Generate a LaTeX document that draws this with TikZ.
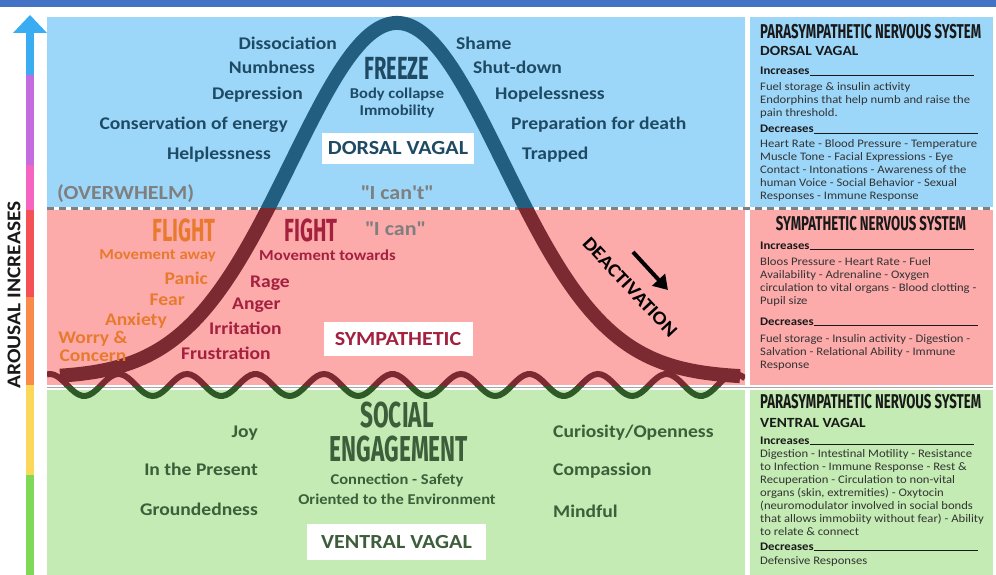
\documentclass[tikz,border=0pt]{standalone}
\usepackage{fontspec}
\setmainfont[FakeStretch=1.1]{Carlito}
\newfontfamily\condfont[FakeStretch=0.63]{Fira Sans}
\newfontfamily\sidefont[FakeStretch=0.66]{Fira Sans}
\usetikzlibrary{arrows.meta}

\definecolor{topbar}{HTML}{4472C4}
\definecolor{dorsalbg}{HTML}{9CD7FA}
\definecolor{sympbg}{HTML}{FDAAAA}
\definecolor{ventralbg}{HTML}{C3EBB3}
\definecolor{dorsaltxt}{HTML}{1F4A63}
\definecolor{dorsalline}{HTML}{215E80}
\definecolor{sympline}{HTML}{7A2A30}
\definecolor{flighttxt}{HTML}{E87A2E}
\definecolor{fighttxt}{HTML}{A3213F}
\definecolor{greytxt}{HTML}{7F7F7F}
\definecolor{ventraltxt}{HTML}{3D5E3A}
\definecolor{waveline}{HTML}{2F5A28}
\definecolor{axblue}{HTML}{3AADF2}
\definecolor{axpurple}{HTML}{C46BE0}
\definecolor{axpink}{HTML}{F564C0}
\definecolor{axred}{HTML}{F55055}
\definecolor{axorange}{HTML}{F98A4A}
\definecolor{axyellow}{HTML}{FCD85A}
\definecolor{axgreen}{HTML}{7ED957}

\newcommand{\rulehead}[2]{\makebox[#2][l]{#1\leaders\hrule height 0pt depth 1.3pt\hfill\kern0pt}}

\tikzset{
	feelword/.style={inner sep=0pt,font=\bfseries\fontsize{17.8}{17.8}\selectfont},
	smallnote/.style={inner sep=0pt,anchor=base,font=\bfseries\fontsize{15}{15}\selectfont},
	bigword/.style={inner sep=0pt,anchor=base,font=\condfont\bfseries\fontsize{32}{32}\selectfont},
	statebox/.style={fill=white,inner sep=0pt,font=\bfseries\fontsize{20}{20}\selectfont},
	saying/.style={inner sep=0pt,text=greytxt,font=\bfseries\fontsize{20}{20}\selectfont},
	sidetitle/.style={inner sep=0pt,anchor=base west,text=black!90,font=\sidefont\bfseries\fontsize{20}{20}\selectfont},
	sidesub/.style={inner sep=0pt,anchor=base west,text=black!90,font=\bfseries\fontsize{14}{14}\selectfont},
	sidehead/.style={inner sep=0pt,anchor=base west,text=black!90,font=\bfseries\fontsize{11.6}{12}\selectfont},
	sidebody/.style={inner sep=0pt,anchor=north west,align=left,text=black!80,font=\fontsize{11.5}{13}\selectfont},
}

\begin{document}
\begin{tikzpicture}[x=1pt,y=-1pt]
	\useasboundingbox (0,0) rectangle (996,575);
	\fill[white] (0,0) rectangle (996,575);
	\fill[topbar] (0,0) rectangle (996,7);

	\fill[dorsalbg] (47,17) rectangle (745,207);
	\fill[dorsalbg] (750,17) rectangle (993,207);
	\fill[sympbg] (47,210) rectangle (745,385);
	\fill[sympbg] (750,210) rectangle (993,385);
	\fill[ventralbg] (47,390) rectangle (745,575);
	\fill[ventralbg] (750,390) rectangle (993,575);
	\draw[gray,line width=2.5,dash pattern=on 7pt off 5pt] (47,208.5) -- (993,208.5);
	\draw[gray!70,line width=1.5] (47,387.5) -- (993,387.5);

	\fill[axgreen] (26,475) rectangle (34,575);
	\fill[axyellow] (26,385) rectangle (34,475);
	\fill[axorange] (26,297) rectangle (34,385);
	\fill[axred] (26,210) rectangle (34,297);
	\fill[axpink] (26,165) rectangle (34,210);
	\fill[axpurple] (26,75) rectangle (34,165);
	\fill[axblue] (26,32) rectangle (34,75);
	\fill[axblue] (13,33) -- (30,15) -- (47,33) -- cycle;
	\node[inner sep=0pt,rotate=90,text=black!90,font=\bfseries\fontsize{19.5}{19.5}\selectfont](arousal) at (14,295) {AROUSAL INCREASES};

	\begin{scope}
		\clip (47,0) rectangle (745,208.5);
		\draw[dorsalline,line width=14] plot[domain=60:740,samples=150,smooth] (\x,{378-355*exp(0-((\x-397)/150)*((\x-397)/150))});
	\end{scope}
	\begin{scope}
		\clip (47,208.5) rectangle (745,384);
		\draw[sympline,line width=14] plot[domain=60:740,samples=150,smooth] (\x,{378-355*exp(0-((\x-397)/150)*((\x-397)/150))});
	\end{scope}
	\begin{scope}
		\clip (47,0) rectangle (745,386);
		\draw[sympline,line width=6] plot[domain=47:745,samples=200,smooth] (\x,{385-11*cos((\x-50)*5.25547)});
	\end{scope}
	\begin{scope}
		\clip (47,386) rectangle (745,420);
		\draw[waveline,line width=6] plot[domain=47:745,samples=200,smooth] (\x,{385-11*cos((\x-50)*5.25547)});
	\end{scope}

	\node[feelword,anchor=base east,text=dorsaltxt](dissoc) at (337,49.5) {Dissociation};
	\node[feelword,anchor=base east,text=dorsaltxt](numb) at (315,73.5) {Numbness};
	\node[feelword,anchor=base east,text=dorsaltxt](depress) at (303,99.5) {Depression};
	\node[feelword,anchor=base east,text=dorsaltxt](conserve) at (288,129.5) {Conservation of energy};
	\node[feelword,anchor=base east,text=dorsaltxt](helpless) at (271,159.5) {Helplessness};
	\node[saying,anchor=base west](overwhelm) at (57,199.5) {(OVERWHELM)};
	\node[feelword,anchor=base west,text=dorsaltxt](shame) at (456,49.5) {Shame};
	\node[feelword,anchor=base west,text=dorsaltxt](shutdown) at (473,73.5) {Shut-down};
	\node[feelword,anchor=base west,text=dorsaltxt](hopeless) at (495,99.5) {Hopelessness};
	\node[feelword,anchor=base west,text=dorsaltxt](death) at (511,129.5) {Preparation for death};
	\node[feelword,anchor=base west,text=dorsaltxt](trapped) at (522,159.5) {Trapped};
	\node[bigword,text=dorsaltxt](freeze) at (397,80) {FREEZE};
	\node[smallnote,text=dorsaltxt](collapse) at (397,98.5) {Body collapse};
	\node[smallnote,text=dorsaltxt](immob) at (397,115.5) {Immobility};
	\node[statebox,text=dorsaltxt,minimum width=152pt,minimum height=31pt](dorsal) at (398,148.5) {DORSAL VAGAL};
	\node[saying,anchor=base](icant) at (397,199.5) {\textquotedbl I can\textquotesingle t\textquotedbl};

	\node[bigword,text=flighttxt](flight) at (184,241) {FLIGHT};
	\node[bigword,text=fighttxt](fight) at (311,241) {FIGHT};
	\node[saying,anchor=base west](ican) at (365,235.5) {\textquotedbl I can\textquotedbl};
	\node[feelword,anchor=base east,text=flighttxt,font=\bfseries\fontsize{15.2}{15.2}\selectfont](away) at (216,259) {Movement away};
	\node[feelword,anchor=base west,text=fighttxt,font=\bfseries\fontsize{15.2}{15.2}\selectfont](towards) at (259,260) {Movement towards};
	\node[feelword,anchor=base east,text=flighttxt](panic) at (208,284.5) {Panic};
	\node[feelword,anchor=base east,text=flighttxt](fear) at (185,305.5) {Fear};
	\node[feelword,anchor=base east,text=flighttxt](anxiety) at (167,325.5) {Anxiety};
	\node[feelword,anchor=north,align=center,text=flighttxt](worry) at (93,331.5) {Worry \&\\Concern};
	\node[feelword,anchor=base west,text=fighttxt](rage) at (250,287.5) {Rage};
	\node[feelword,anchor=base west,text=fighttxt](anger) at (232,309.5) {Anger};
	\node[feelword,anchor=base west,text=fighttxt](irritation) at (209,334.5) {Irritation};
	\node[feelword,anchor=base west,text=fighttxt](frustration) at (181,359.5) {Frustration};
	\node[statebox,text=fighttxt,minimum width=149pt,minimum height=34pt](sympathetic) at (398,339) {SYMPATHETIC};
	\node[inner sep=0pt,rotate=-47,font=\bfseries\fontsize{19}{19}\selectfont](deact) at (630,287) {DEACTIVATION};
	\coordinate (arrfrom) at (633,252);
	\coordinate (arrto) at (668,290);
	\draw[line width=4,-{Triangle[length=14pt,width=17pt]}] (arrfrom) -- (arrto);

	\node[bigword,text=ventraltxt,font=\condfont\bfseries\fontsize{36}{36}\selectfont](social) at (397,427.5) {SOCIAL};
	\node[bigword,text=ventraltxt,font=\condfont\bfseries\fontsize{36}{36}\selectfont](engage) at (399,461.5) {ENGAGEMENT};
	\node[smallnote,text=ventraltxt](connect) at (397,484.5) {Connection - Safety};
	\node[smallnote,text=ventraltxt](oriented) at (397,504.5) {Oriented to the Environment};
	\node[statebox,text=ventraltxt,minimum width=179pt,minimum height=36pt](ventral) at (396.5,542) {VENTRAL VAGAL};
	\node[feelword,anchor=base east,text=ventraltxt](joy) at (258,437.5) {Joy};
	\node[feelword,anchor=base east,text=ventraltxt](present) at (258,475.5) {In the Present};
	\node[feelword,anchor=base east,text=ventraltxt](grounded) at (258,515.5) {Groundedness};
	\node[feelword,anchor=base west,text=ventraltxt](curious) at (553,437.5) {Curiosity/Openness};
	\node[feelword,anchor=base west,text=ventraltxt](compassion) at (553,475.5) {Compassion};
	\node[feelword,anchor=base west,text=ventraltxt](mindful) at (553,517.5) {Mindful};

	\node[sidetitle](dvtitle) at (760,38.5) {PARASYMPATHETIC NERVOUS SYSTEM};
	\node[sidesub](dvsub) at (760,56) {DORSAL VAGAL};
	\node[sidehead](dvinc) at (760,75) {\rulehead{Increases}{214pt}};
	\node[sidebody](dvincbody) at (760,82.5) {Fuel storage \& insulin activity\\Endorphins that help numb and raise the\\pain threshold.};
	\node[sidehead](dvdec) at (760,133) {\rulehead{Decreases}{218pt}};
	\node[sidebody](dvdecbody) at (760,139.5) {Heart Rate - Blood Pressure - Temperature\\Muscle Tone - Facial Expressions - Eye\\Contact - Intonations - Awareness of the\\human Voice - Social Behavior - Sexual\\Responses - Immune Response};

	\node[sidetitle,anchor=base](svtitle) at (871,230.5) {SYMPATHETIC NERVOUS SYSTEM};
	\node[sidehead](svinc) at (760,249) {\rulehead{Increases}{214pt}};
	\node[sidebody](svincbody) at (760,257.5) {Bloos Pressure - Heart Rate - Fuel\\Availability - Adrenaline - Oxygen\\circulation to vital organs - Blood clotting -\\Pupil size};
	\node[sidehead](svdec) at (760,325) {\rulehead{Decreases}{218pt}};
	\node[sidebody](svdecbody) at (760,334.5) {Fuel storage - Insulin activity - Digestion -\\Salvation - Relational Ability - Immune\\Response};

	\node[sidetitle](vvtitle) at (760,408.5) {PARASYMPATHETIC NERVOUS SYSTEM};
	\node[sidesub](vvsub) at (760,427) {VENTRAL VAGAL};
	\node[sidehead](vvinc) at (760,444) {\rulehead{Increases}{214pt}};
	\node[sidebody](vvincbody) at (760,449.5) {Digestion - Intestinal Motility - Resistance\\to Infection - Immune Response - Rest \&\\Recuperation - Circulation to non-vital\\organs (skin, extremities) - Oxytocin\\(neuromodulator involved in social bonds\\that allows immobiity without fear) - Ability\\to relate \& connect};
	\node[sidehead](vvdec) at (760,550) {\rulehead{Decreases}{218pt}};
	\node[sidebody](vvdecbody) at (760,556.5) {Defensive Responses};
\end{tikzpicture}
\end{document}
